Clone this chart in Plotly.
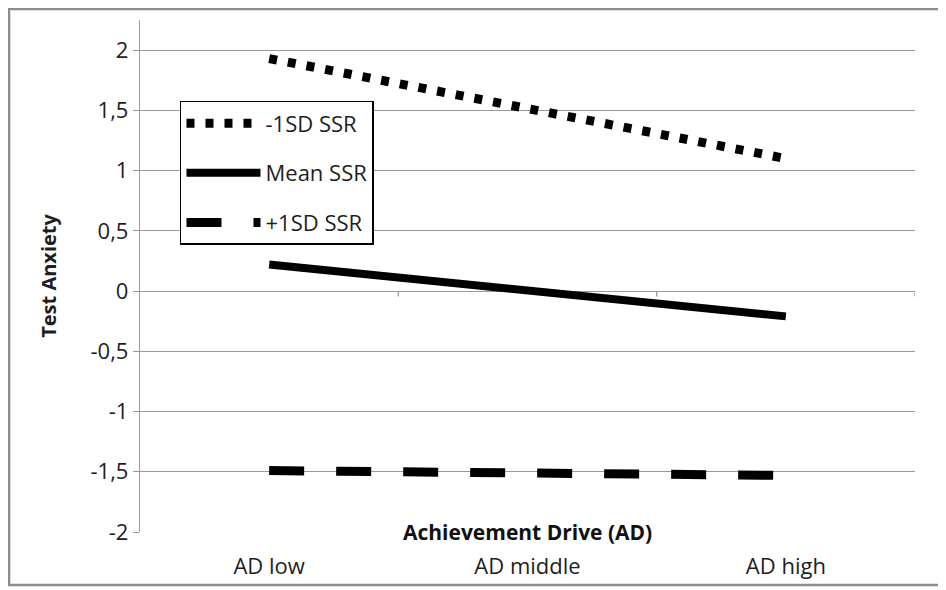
import plotly.graph_objects as go

# values
categories = ["AD low", "AD middle", "AD high"]
minus_1sd = [1.93, 1.51, 1.10]
mean_ssr = [0.22, 0.01, -0.21]
plus_1sd = [-1.49, -1.51, -1.53]
series_names = ["-1SD SSR", "Mean SSR", "+1SD SSR"]
y_ticks = [-2, -1.5, -1, -0.5, 0, 0.5, 1, 1.5, 2]
y_ticktext = ["-2", "-1,5", "-1", "-0,5", "0", "0,5", "1", "1,5", "2"]

FONT = "Open Sans, Lato, sans-serif"
GRID = "#9a9a9a"
TXT = "#1e1e1e"

fig = go.Figure()

# -1SD: dots
fig.add_trace(go.Scatter(
    x=categories, y=minus_1sd, name=series_names[0], mode="lines",
    line=dict(color="black", width=9, dash="8px,11px"),
    legendgroup="a", hoverinfo="skip"
))
# mean: thick solid
fig.add_trace(go.Scatter(
    x=categories, y=mean_ssr, name=series_names[1], mode="lines",
    line=dict(color="black", width=8),
    legendgroup="b", hoverinfo="skip"
))
# +1SD: long dashes
fig.add_trace(go.Scatter(
    x=categories, y=plus_1sd, name=series_names[2], mode="lines",
    line=dict(color="black", width=9, dash="35px,32px"),
    legendgroup="c", hoverinfo="skip"
))

# small category tick marks on the zero line (Excel style)
shapes = []
for i in range(len(categories)):
    shapes.append(dict(type="line", xref="x", yref="y", x0=i + 0.5, x1=i + 0.5,
                       y0=0, y1=-0.045, line=dict(color=GRID, width=1.3)))
# outer grey frame of the chart
shapes.append(dict(type="rect", xref="paper", yref="paper",
                   x0=-0.169, x1=1.0345, y0=-0.1035, y1=1.0215,
                   line=dict(color="#8c8c8c", width=2.5), layer="below"))

fig.update_layout(
    width=946, height=590,
    margin=dict(l=132, r=39, t=12, b=66),
    paper_bgcolor="white", plot_bgcolor="white",
    font=dict(family=FONT, size=22, color=TXT),
    showlegend=True,
    legend=dict(
        x=0.0516, y=0.842, xanchor="left", yanchor="top",
        bgcolor="white", bordercolor="black", borderwidth=1.5,
        font=dict(size=22, color=TXT),
        tracegroupgap=18, itemwidth=74,
    ),
    xaxis=dict(
        type="category", range=[-0.5, 2.5],
        showgrid=False, zeroline=False, showline=False,
        ticks="", ticklabelstandoff=19,
        tickfont=dict(size=22),
    ),
    yaxis=dict(
        range=[-2, 2.25],
        tickvals=y_ticks, ticktext=y_ticktext,
        showgrid=True, gridcolor=GRID, gridwidth=1.2,
        zeroline=True, zerolinecolor=GRID, zerolinewidth=1.3,
        showline=True, linecolor=GRID, linewidth=1.3,
        ticks="outside", ticklen=6, tickcolor=GRID,
        tickfont=dict(size=22),
        title=dict(text="<b>Test Anxiety</b>", font=dict(size=20), standoff=28),
    ),
    shapes=shapes,
    annotations=[dict(
        x=0.5, xref="paper", y=-2, yref="y",
        text="<b>Achievement Drive (AD)</b>", showarrow=False,
        font=dict(size=21, color="#111"), bgcolor="white",
        xanchor="center", yanchor="middle", borderpad=3,
    )],
)

fig.write_html("out.html")
